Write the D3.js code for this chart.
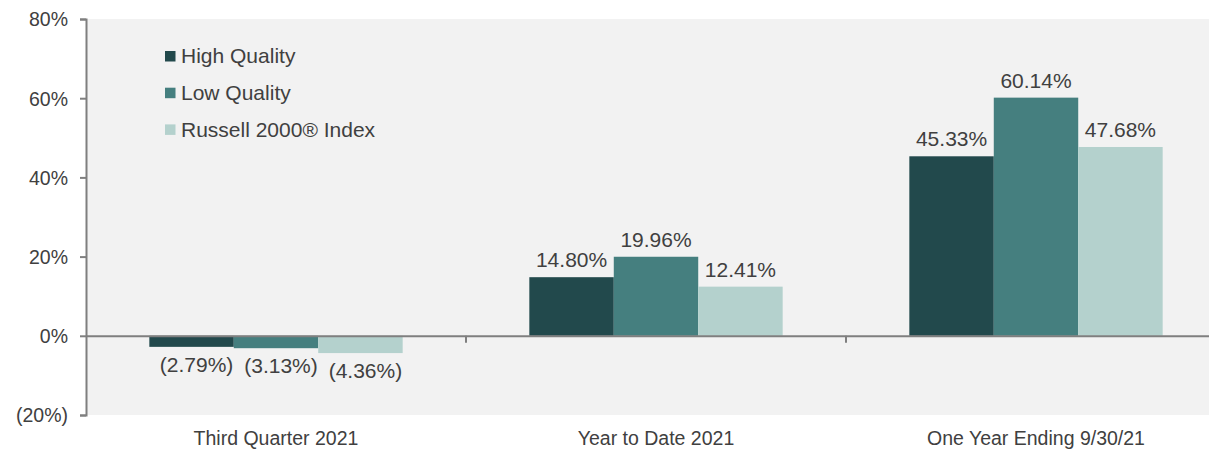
<!DOCTYPE html>
<html>
<head>
<meta charset="utf-8">
<script src="https://cdn.jsdelivr.net/npm/d3@7"></script>
<style>
html,body{margin:0;padding:0;background:#fff;overflow:hidden;}
svg{display:block;font-family:"Liberation Sans",Arial,sans-serif;}
</style>
</head>
<body>
<svg id="chart" width="1209" height="451"></svg>
<script>
const categories = ["Third Quarter 2021", "Year to Date 2021", "One Year Ending 9/30/21"];
const seriesNames = ["High Quality", "Low Quality", "Russell 2000\u00AE Index"];
const highQuality = [-2.79, 14.80, 45.33];
const lowQuality = [-3.13, 19.96, 60.14];
const russell2000 = [-4.36, 12.41, 47.68];
const yTicks = [-20, 0, 20, 40, 60, 80];
const colors = ["#22494c", "#457f7f", "#b4d1cd"];

const seriesValues = [highQuality, lowQuality, russell2000];
const svg = d3.select("#chart");
const mLeft = 86, mRight = 1226, mTop = 19, mBottom = 415;

const x = d3.scaleBand().domain(categories).range([mLeft, mRight]).paddingInner(0).paddingOuter(0);
const xs = d3.scaleBand().domain(seriesNames).range([0, x.bandwidth()]).paddingInner(0).paddingOuter(0.75);
const y = d3.scaleLinear().domain([-20, 80]).range([mBottom, mTop]);

const fmt = v => v < 0 ? "(" + Math.abs(v).toFixed(2) + "%)" : v.toFixed(2) + "%";
const tickFmt = v => v < 0 ? "(" + Math.abs(v) + "%)" : v + "%";

// plot background
svg.append("rect").attr("x", mLeft).attr("y", mTop).attr("width", mRight - mLeft).attr("height", mBottom - mTop).attr("fill", "#f2f2f2");

// bars
const groups = svg.append("g").selectAll("g").data(categories).join("g")
  .attr("transform", d => `translate(${x(d)},0)`);
groups.selectAll("rect").data((c, i) => seriesNames.map((s, j) => ({s, j, v: seriesValues[j][i]})))
  .join("rect")
  .attr("x", d => xs(d.s))
  .attr("width", xs.bandwidth())
  .attr("y", d => Math.min(y(d.v), y(0)))
  .attr("height", d => Math.abs(y(d.v) - y(0)))
  .attr("fill", d => colors[d.j]);

groups.selectAll("text").data((c, i) => seriesNames.map((s, j) => ({s, j, v: seriesValues[j][i]})))
  .join("text")
  .attr("x", d => xs(d.s) + xs.bandwidth() / 2 + (d.v < 0 ? 5 : 0))
  .attr("y", d => d.v < 0 ? y(d.v) + 25 : y(d.v) - 10)
  .attr("text-anchor", "middle")
  .attr("fill", "#404040")
  .style("font-size", "21px")
  .text(d => fmt(d.v));

// y axis
const yAxis = d3.axisLeft(y).tickValues(yTicks).tickFormat(tickFmt).tickSizeInner(6).tickSizeOuter(6).tickPadding(12);
const yg = svg.append("g").attr("transform", `translate(${mLeft},0)`).call(yAxis);
yg.selectAll("path,line").attr("stroke", "#7f7f7f").attr("stroke-width", 2);
yg.selectAll("text").attr("fill", "#404040").style("font-size", "19.5px").attr("dy", "0.35em");

// x axis at zero
const xAxis = d3.axisBottom(x).tickSize(0).tickFormat(() => "");
const xg = svg.append("g").attr("transform", `translate(0,${y(0)})`).call(xAxis);
xg.select("path").attr("stroke", "#7f7f7f").attr("stroke-width", 2);
xg.selectAll(".tick").remove();
// category boundary ticks
xg.selectAll("line.sep").data(categories.slice(1)).join("line")
  .attr("class", "sep")
  .attr("x1", d => x(d)).attr("x2", d => x(d))
  .attr("y1", 0).attr("y2", 7)
  .attr("stroke", "#7f7f7f").attr("stroke-width", 2);

// category labels
svg.append("g").selectAll("text").data(categories).join("text")
  .attr("x", d => x(d) + x.bandwidth() / 2)
  .attr("y", 445)
  .attr("text-anchor", "middle")
  .attr("fill", "#404040")
  .style("font-size", "19.5px")
  .text(d => d);

// legend
const lg = svg.append("g").selectAll("g").data(seriesNames).join("g")
  .attr("transform", (d, i) => `translate(165,${56 + i * 36.7})`);
lg.append("rect").attr("x", 0).attr("y", -5).attr("width", 10.5).attr("height", 10.5).attr("fill", (d, i) => colors[i]);
lg.append("text").attr("x", 16).attr("y", 0).attr("dy", "0.35em")
  .attr("fill", "#404040").style("font-size", "21px").text(d => d);
</script>
</body>
</html>
